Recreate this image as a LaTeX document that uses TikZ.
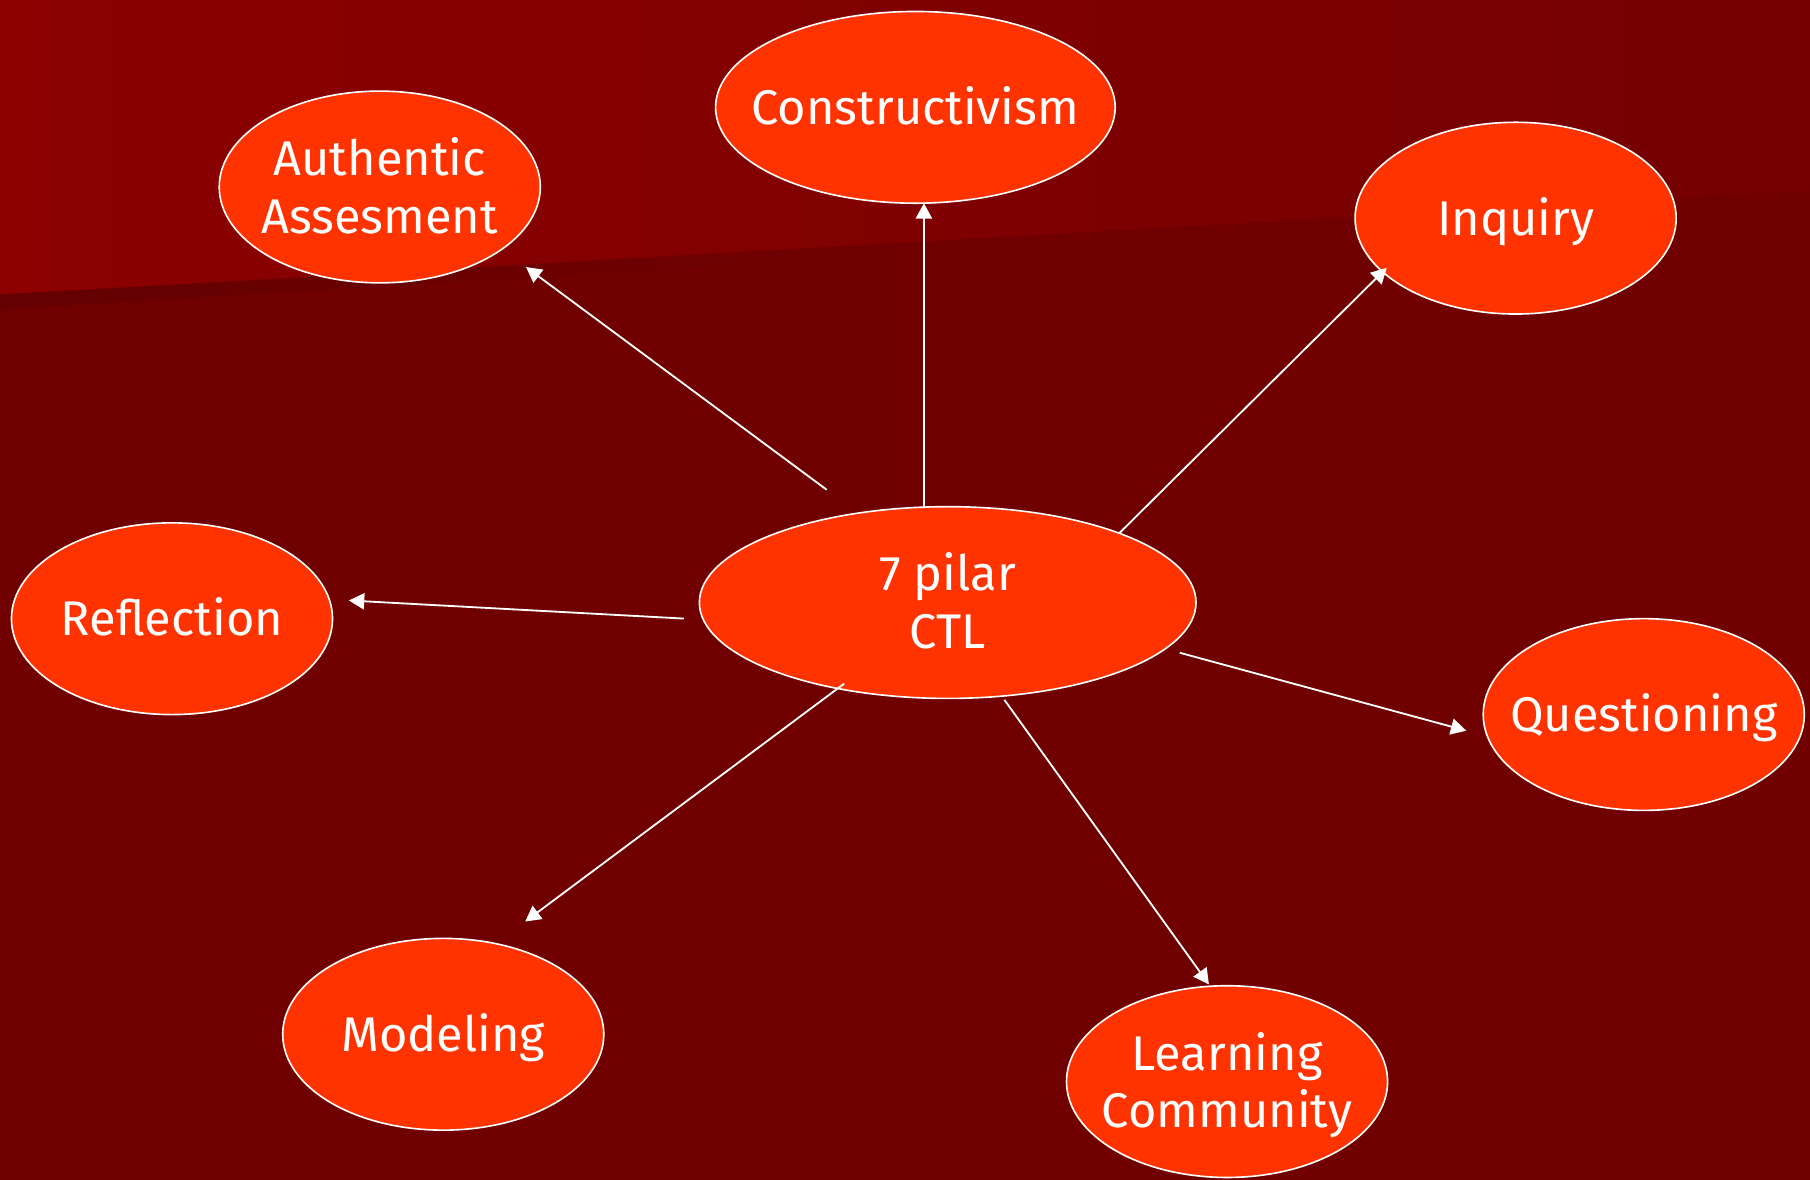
\documentclass[tikz,border=0pt]{standalone}
\usepackage{fontspec}
\setmainfont{Fira Sans}
\usetikzlibrary{shapes.geometric,arrows.meta}
\definecolor{slidebg}{RGB}{112,0,0}
\definecolor{slidetop}{RGB}{140,0,0}
\definecolor{slidetopr}{RGB}{116,0,0}
\definecolor{slideshadow}{RGB}{100,0,0}
\definecolor{pilarfill}{RGB}{255,51,0}
\tikzset{
  pilar/.style={ellipse,draw=white,line width=0.4pt,fill=pilarfill,inner sep=0pt,outer sep=0pt,
    minimum width=2.78cm,minimum height=1.66cm,text=white,font=\fontsize{12}{14.2}\selectfont},
  link/.style={draw=white,line width=0.45pt,-{Triangle[length=3.8pt,width=4pt]}},
}
\newcommand\pil[1]{\smash{\raisebox{-0.155cm}{\makebox[0pt]{\begin{tabular}{@{}c@{}}#1\end{tabular}}}}}
\begin{document}
\begin{tikzpicture}[x=0.01cm,y=-0.01cm]
  \fill[slidebg] (0,0) rectangle (1568,1022);
  \shade[left color=slideshadow,right color=slidebg] (0,255) -- (800,212) -- (800,220) -- (0,268) -- cycle;
  \shade[left color=slidetop,right color=slidetopr] (0,0) -- (1568,0) -- (1568,165) -- (0,255) -- cycle;
  \useasboundingbox (0,0) rectangle (1568,1022);

  \node[pilar,minimum width=4.30cm] (ctl) at (821,522) {\pil{7 pilar\\CTL}};
  \node[pilar,minimum width=3.46cm] (cons) at (793,93) {\pil{Constructivism}};
  \node[pilar] (auth) at (329,162) {\pil{Authentic\\Assesment}};
  \node[pilar] (inq) at (1313,189) {\pil{Inquiry}};
  \node[pilar] (refl) at (149,536) {\pil{Reflection}};
  \node[pilar] (quest) at (1424,619) {\pil{Questioning}};
  \node[pilar] (mod) at (384,896) {\pil{Modeling}};
  \node[pilar] (lc) at (1063,937) {\pil{Learning\\Community}};

  \draw[link,shorten <=0.34cm,shorten >=0.26cm] (ctl.135) -- (auth.333);
  \draw[link] (ctl.104) -- (ctl.104 |- cons.south);
  \draw[link,shorten >=-0.05cm] (ctl.22) -- (inq.202);
  \draw[link,shorten <=0.17cm,shorten >=0.17cm] (ctl.184) -- (refl.7);
  \draw[link,shorten <=0.13cm,shorten >=0.19cm] (ctl.348) -- (quest.188);
  \draw[link,shorten <=0.04cm,shorten >=0.02cm] (ctl.300) -- (lc.100);
  \draw[link,shorten <=-0.07cm,shorten >=0.32cm] (ctl.218) -- (mod.60);
\end{tikzpicture}
\end{document}
